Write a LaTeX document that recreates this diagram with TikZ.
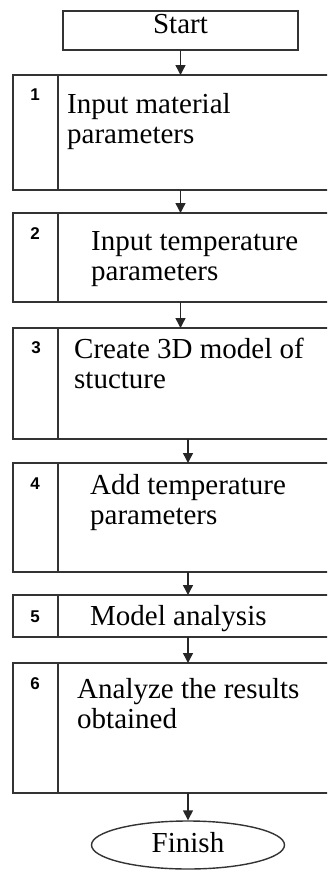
\documentclass[tikz,border=0pt]{standalone}
\usepackage{fontspec}
\setmainfont{Liberation Serif}
\setsansfont{Liberation Sans}
\usetikzlibrary{arrows.meta,shapes.geometric}

\begin{document}
\begin{tikzpicture}[
    x=1pt, y=-1pt,
    cell/.style={draw=black!80, line width=1.7pt, anchor=north west,
                 inner sep=0pt, outer sep=0pt},
    txt/.style={anchor=base west, align=left, inner sep=0pt,
                font=\fontsize{29}{30}\selectfont},
    num/.style={inner sep=0pt, font=\sffamily\bfseries\fontsize{17}{17}\selectfont},
    arr/.style={-{Triangle[length=10pt,width=10pt]}, line width=1.4pt, draw=black!85},
]
\useasboundingbox (0,0) rectangle (327,870);
\clip (0,0) rectangle (327,870);

\node[cell, minimum width=235pt, minimum height=39pt, anchor=north west,
      text height=20pt, text depth=15pt,
      font=\fontsize{29}{30}\selectfont] (start) at (63,11) {Start};

% step boxes: number cell + text cell
\node[cell, minimum width=45pt,  minimum height=115pt] (n1) at (13,75)  {};
\node[cell, minimum width=290pt, minimum height=115pt] (b1) at (58,75)  {};
\node[cell, minimum width=45pt,  minimum height=89pt]  (n2) at (13,213) {};
\node[cell, minimum width=290pt, minimum height=89pt]  (b2) at (58,213) {};
\node[cell, minimum width=45pt,  minimum height=111pt] (n3) at (13,328) {};
\node[cell, minimum width=290pt, minimum height=111pt] (b3) at (58,328) {};
\node[cell, minimum width=45pt,  minimum height=109pt] (n4) at (13,463) {};
\node[cell, minimum width=290pt, minimum height=109pt] (b4) at (58,463) {};
\node[cell, minimum width=45pt,  minimum height=42pt]  (n5) at (13,595) {};
\node[cell, minimum width=290pt, minimum height=42pt]  (b5) at (58,595) {};
\node[cell, minimum width=45pt,  minimum height=130pt] (n6) at (13,663) {};
\node[cell, minimum width=290pt, minimum height=130pt] (b6) at (58,663) {};

\node[num] (k1) at (35,95)  {1};
\node[num] (k2) at (35,234) {2};
\node[num] (k3) at (36,348) {3};
\node[num] (k4) at (35,484) {4};
\node[num] (k5) at (35,617) {5};
\node[num] (k6) at (35,684) {6};

% base = baseline of the last line
\node[txt] (t1) at (67,143) {Input material\\parameters};
\node[txt] (t2) at (91,280) {Input temperature\\parameters};
\node[txt] (t3) at (74,388) {Create 3D model of\\stucture};
\node[txt] (t4) at (90,524) {Add temperature\\parameters};
\node[txt] (t5) at (90,625) {Model analysis};
\node[txt] (t6) at (77,728) {Analyze the results\\obtained};

\node[ellipse, draw=black!80, line width=1.4pt, minimum width=193pt,
      minimum height=48pt, inner sep=0pt, text height=19pt, text depth=5pt,
      font=\fontsize{29}{30}\selectfont] (finish) at (188,845) {Finish};

\draw[arr] (start.south) -- (start.south |- b1.north);
\draw[arr] (b1.south -| start) -- (b2.north -| start);
\draw[arr] (b2.south -| start) -- (b3.north -| start);
\draw[arr] (b3.south -| finish) -- (b4.north -| finish);
\draw[arr] (b4.south -| finish) -- (b5.north -| finish);
\draw[arr] (b5.south -| finish) -- (b6.north -| finish);
\draw[arr] (b6.south -| finish) -- (finish.north);
\end{tikzpicture}
\end{document}
